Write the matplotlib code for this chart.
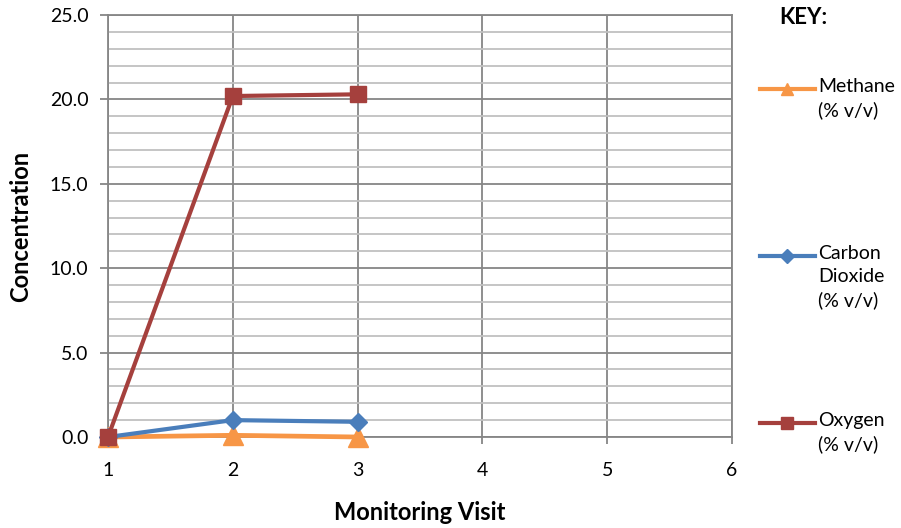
import numpy as np
import matplotlib.pyplot as plt
from matplotlib.lines import Line2D
from matplotlib.ticker import MultipleLocator

plt.rcParams['font.family'] = ['Lato', 'DejaVu Sans']

# Data
visits = [1, 2, 3]
methane = [0.0, 0.1, 0.0]
co2 = [0.0, 1.0, 0.9]
oxygen = [0.0, 20.2, 20.3]
labels = ['Methane\n(% v/v)', 'Carbon\nDioxide\n(% v/v)', 'Oxygen\n(% v/v)']

W, H = 901, 528
fig = plt.figure(figsize=(W / 100, H / 100), dpi=100)
ax = fig.add_axes([108 / W, 91 / H, 624 / W, 422 / H])

orange = '#f79646'
blue = '#4a7ebb'
red = '#a5403d'
grid_dark = '#868686'

ax.set_xlim(1, 6)
ax.set_ylim(0, 25)
ax.yaxis.set_major_locator(MultipleLocator(5))
ax.yaxis.set_minor_locator(MultipleLocator(1))
ax.xaxis.set_major_locator(MultipleLocator(1))
ax.grid(which='major', color=grid_dark, linewidth=1.3, zorder=0)
ax.grid(which='minor', axis='y', color='#c0c0c0', linewidth=1.3, zorder=0)
ax.set_axisbelow(True)
for s in ax.spines.values():
    s.set_color(grid_dark)
    s.set_linewidth(1.3)
ax.tick_params(axis='y', which='major', length=6, color=grid_dark, width=1.3, labelsize=14, pad=8)
ax.tick_params(axis='y', which='minor', length=0)
ax.tick_params(axis='x', length=5, color=grid_dark, width=1.3, labelsize=14, pad=13)
ax.yaxis.set_major_formatter(plt.FormatStrFormatter('%.1f'))

ax.plot(visits, methane, color=orange, marker='^', markersize=14, linewidth=3.4,
        clip_on=False, zorder=3)
ax.plot(visits, co2, color=blue, marker='D', markersize=9, linewidth=3,
        clip_on=False, zorder=4)
ax.plot(visits, oxygen, color=red, marker='s', markersize=11, linewidth=3,
        clip_on=False, zorder=5)

ax.set_xlabel('Monitoring Visit', fontsize=17, fontweight='bold')
ax.set_ylabel('Concentration', fontsize=17, fontweight='bold', va='center')
ax.xaxis.set_label_coords(0.5, (437 - 501) / 422)
ax.yaxis.set_label_coords((21 - 108) / 624, 0.5)

fig.text(803 / W, 1 - 18 / H, 'KEY:', fontsize=16, fontweight='bold', ha='center', va='center')

# Key entries
key_styles = [(orange, '^', 9), (blue, 'D', 7), (red, 's', 8.5)]
key_y = [89, 256, 423]
for (c, m, ms), y, lab in zip(key_styles, key_y, labels):
    yf = 1 - y / H
    fig.add_artist(Line2D([760 / W, 815 / W], [yf, yf], color=c, linewidth=3,
                          transform=fig.transFigure))
    fig.add_artist(Line2D([787 / W], [yf], color=c, marker=m, markersize=ms,
                          linestyle='none', transform=fig.transFigure))
    fig.text(818 / W, 1 - (y - 11) / H, lab, fontsize=14, ha='left', va='top',
             linespacing=1.42)

fig.savefig('out.png', dpi=100)
